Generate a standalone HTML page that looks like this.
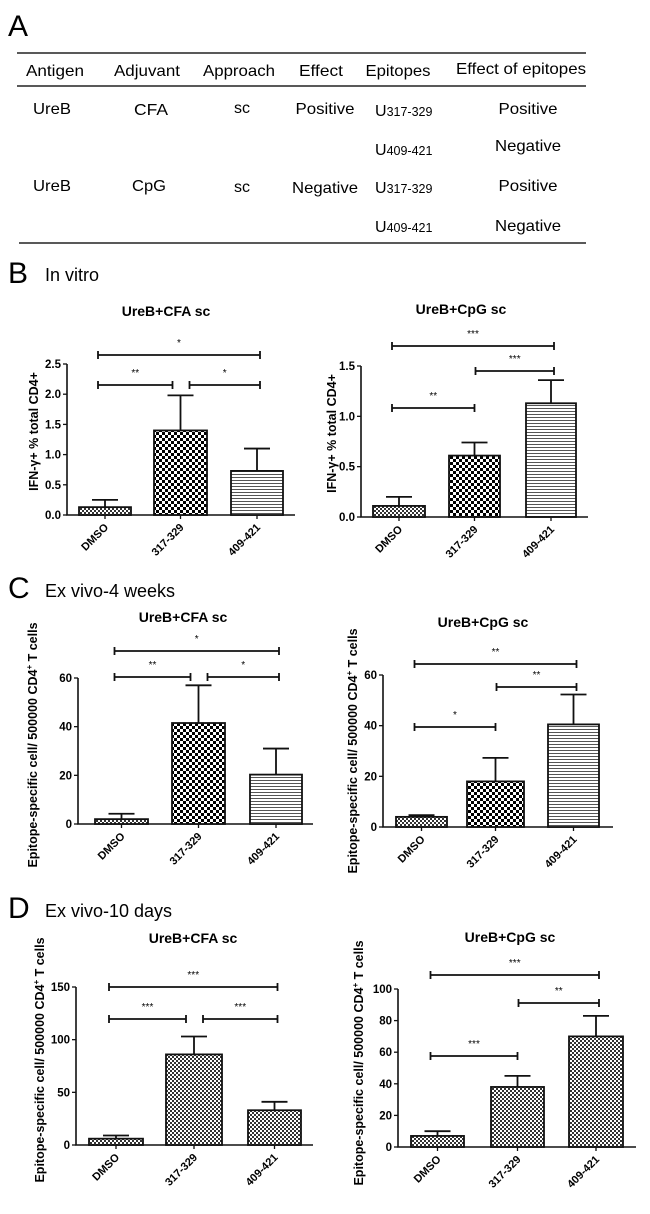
<!DOCTYPE html>
<html><head><meta charset="utf-8"><style>
body{margin:0;background:#fff;}
svg{display:block;font-family:"Liberation Sans",Arial,sans-serif;}
.t{font-size:16px;fill:#000;font-family:"Liberation Sans",sans-serif;}
.big{font-size:30px;}
.sec{font-size:18px;}
.ttl{font-size:14px;font-weight:bold;}
.tk{font-size:11.5px;font-weight:bold;}
.cl{font-size:11px;font-weight:bold;}
.yl{font-size:12.5px;font-weight:bold;}
.st{font-size:10px;}
</style></head><body>
<svg id="fig" width="650" height="1214" viewBox="0 0 650 1214" xmlns="http://www.w3.org/2000/svg">
<defs>
<pattern id="fine" width="4" height="4" patternUnits="userSpaceOnUse"><rect width="4" height="4" fill="#fff"/><rect width="2" height="2" fill="#333"/><rect x="2" y="2" width="2" height="2" fill="#333"/></pattern>
<pattern id="coarse" width="6" height="6" patternUnits="userSpaceOnUse"><rect width="6" height="6" fill="#fff"/><rect width="3" height="3" fill="#000"/><rect x="3" y="3" width="3" height="3" fill="#000"/></pattern>
<pattern id="hl" width="4" height="3" patternUnits="userSpaceOnUse"><rect width="4" height="3" fill="#fff"/><rect width="4" height="1" fill="#555"/></pattern>
</defs>
<g>
<text class="t big" x="8" y="36">A</text>
<line x1="17" y1="53" x2="586" y2="53" stroke="#222" stroke-width="1.5"/>
<line x1="17" y1="86" x2="586" y2="86" stroke="#222" stroke-width="1.5"/>
<line x1="19" y1="243" x2="586" y2="243" stroke="#222" stroke-width="1.5"/>
<g text-anchor="middle">
<text class="t" x="55" y="76" textLength="58" lengthAdjust="spacingAndGlyphs">Antigen</text><text class="t" x="147" y="76" textLength="66" lengthAdjust="spacingAndGlyphs">Adjuvant</text><text class="t" x="239" y="76" textLength="72" lengthAdjust="spacingAndGlyphs">Approach</text><text class="t" x="321" y="76" textLength="44" lengthAdjust="spacingAndGlyphs">Effect</text><text class="t" x="398" y="76" textLength="65" lengthAdjust="spacingAndGlyphs">Epitopes</text><text class="t" x="521" y="74" textLength="130" lengthAdjust="spacingAndGlyphs">Effect of epitopes</text>
</g>
<g text-anchor="middle">
<text class="t" x="52" y="114" textLength="38" lengthAdjust="spacingAndGlyphs">UreB</text><text class="t" x="151" y="115" textLength="34" lengthAdjust="spacingAndGlyphs">CFA</text><text class="t" x="242" y="113">sc</text><text class="t" x="325" y="114" textLength="59" lengthAdjust="spacingAndGlyphs">Positive</text><text class="t" x="528" y="114" textLength="59" lengthAdjust="spacingAndGlyphs">Positive</text>
<text class="t" x="528" y="151" textLength="66" lengthAdjust="spacingAndGlyphs">Negative</text>
<text class="t" x="52" y="191" textLength="38" lengthAdjust="spacingAndGlyphs">UreB</text><text class="t" x="149" y="191" textLength="34" lengthAdjust="spacingAndGlyphs">CpG</text><text class="t" x="242" y="192">sc</text><text class="t" x="325" y="193" textLength="66" lengthAdjust="spacingAndGlyphs">Negative</text><text class="t" x="528" y="191" textLength="59" lengthAdjust="spacingAndGlyphs">Positive</text>
<text class="t" x="528" y="231" textLength="66" lengthAdjust="spacingAndGlyphs">Negative</text>
</g>
<g>
<text class="t" x="375" y="116">U<tspan font-size="12.5">317-329</tspan></text>
<text class="t" x="375" y="155">U<tspan font-size="12.5">409-421</tspan></text>
<text class="t" x="375" y="193">U<tspan font-size="12.5">317-329</tspan></text>
<text class="t" x="375" y="232">U<tspan font-size="12.5">409-421</tspan></text>
</g>
</g>
<text class="t big" x="8" y="283">B</text>
<text class="t sec" x="45" y="281">In vitro</text>
<text class="t big" x="8" y="598">C</text>
<text class="t sec" x="45" y="597">Ex vivo-4 weeks</text>
<text class="t big" x="8" y="918">D</text>
<text class="t sec" x="45" y="917">Ex vivo-10 days</text>
<g id="charts"></g>
</svg>
<script>
const categories = ["DMSO", "317-329", "409-421"];
const bLeftValues = [0.13, 1.40, 0.73];
const bLeftErrors = [0.25, 1.98, 1.10];
const bLeftTicks = [0, 0.5, 1.0, 1.5, 2.0, 2.5];
const bRightValues = [0.11, 0.61, 1.13];
const bRightErrors = [0.20, 0.74, 1.36];
const bRightTicks = [0, 0.5, 1.0, 1.5];
const cLeftValues = [2, 41.5, 20.3];
const cLeftErrors = [4.2, 57, 31];
const cLeftTicks = [0, 20, 40, 60];
const cRightValues = [4, 18, 40.5];
const cRightErrors = [4.7, 27.3, 52.3];
const cRightTicks = [0, 20, 40, 60];
const dLeftValues = [6, 86, 33];
const dLeftErrors = [9, 103, 41];
const dLeftTicks = [0, 50, 100, 150];
const dRightValues = [7, 38, 70];
const dRightErrors = [10, 45, 83];
const dRightTicks = [0, 20, 40, 60, 80, 100];
const bLeftSig = [["*",0,2],["**",0,1],["*",1,2]];
const bRightSig = [["***",0,2],["***",1,2],["**",0,1]];
const cLeftSig = [["*",0,2],["**",0,1],["*",1,2]];
const cRightSig = [["**",0,2],["**",1,2],["*",0,1]];
const dLeftSig = [["***",0,2],["***",0,1],["***",1,2]];
const dRightSig = [["***",0,2],["**",1,2],["***",0,1]];

const NS = "http://www.w3.org/2000/svg";
const root = document.getElementById("charts");
function mk(tag, attrs, parent){const e=document.createElementNS(NS,tag);for(const k in attrs)e.setAttribute(k,attrs[k]);parent.appendChild(e);return e;}

function chart(cfg){
  const g = mk("g",{},root);
  
  
  const max = cfg.ticks[cfg.ticks.length-1];
  const y = v => cfg.y0 - (v/max)*(cfg.y0-cfg.yTop);
  const t = mk("text",{x:cfg.titleX,y:cfg.titleY,"text-anchor":"middle",class:"ttl"},g);
  t.textContent = cfg.title;
  
  
  const yl = mk("text",{transform:`translate(${cfg.ylX},${(cfg.y0+cfg.yTop)/2+cfg.ylShift}) rotate(-90)`,"text-anchor":"middle",class:"yl"},g);
  yl.innerHTML = cfg.ylabel;
  
  
  const ax = mk("path",{d:`M${cfg.ax} ${y(max)}V${cfg.y0}H${cfg.axEnd}`,stroke:"#111","stroke-width":"1.6",fill:"none"},g);
  
  
  cfg.ticks.forEach(v=>{
    mk("line",{x1:cfg.ax-4,x2:cfg.ax,y1:y(v),y2:y(v),stroke:"#111","stroke-width":"1.3"},g);
    const tl = mk("text",{x:cfg.ax-6,y:y(v)+4,"text-anchor":"end",class:"tk"},g);
    tl.textContent = v.toFixed(cfg.dec);
    
    
  });
  const centers=[];
  categories.forEach((c,i)=>{
    const x0 = cfg.bars[i][0], x1 = cfg.bars[i][1], cx=(x0+x1)/2; centers.push(cx);
    const ey = y(cfg.err[i]);
    const el = mk("path",{d:`M${cx} ${y(cfg.values[i])}V${ey}M${cx-13} ${ey}H${cx+13}`,stroke:"#111","stroke-width":"1.8",fill:"none"},g);
    
    
    const r = mk("rect",{x:x0,y:y(cfg.values[i]),width:x1-x0,height:cfg.y0-y(cfg.values[i]),fill:`url(#${cfg.pat[i]})`,stroke:"#111","stroke-width":"1.8"},g);
    
    
    mk("line",{x1:cx,x2:cx,y1:cfg.y0,y2:cfg.y0+4,stroke:"#111","stroke-width":"1.3"},g);
    const lb = mk("text",{transform:`translate(${cx+4},${cfg.y0+13}) rotate(-45)`,"text-anchor":"end",class:"cl"},g);
    lb.textContent = c;
    
    
  });
  cfg.sig.forEach((s,k)=>{
    const by = cfg.sigY[k];
    let xa = s[1]===0 ? centers[0]-7 : centers[1]+(cfg.split?9:1);
    let xb = s[2]===2 ? centers[2]+3 : centers[1]-(cfg.split?8:0);
    const br = mk("path",{d:`M${xa} ${by-4}V${by+4}M${xa} ${by}H${xb}M${xb} ${by-4}V${by+4}`,stroke:"#111","stroke-width":"1.8",fill:"none"},g);
    
    
    const st = mk("text",{x:(xa+xb)/2,y:by-9,"text-anchor":"middle",class:"st"},g);
    st.textContent = s[0];
    
    
  });
}
const yIFN = "IFN-γ+ % total CD4+";
const yEpi = 'Epitope-specific cell/ 500000 CD4<tspan dy="-5" font-size="8">+</tspan><tspan dy="5"> T cells</tspan>';
chart({name:"chart-b-cfa",title:"UreB+CFA sc",titleX:166,titleY:316,ylabel:yIFN,ylX:38,ylShift:-8,ax:67,axEnd:295,y0:515,yTop:364,ticks:bLeftTicks,dec:1,values:bLeftValues,err:bLeftErrors,bars:[[79,131],[154,207],[231,283]],pat:["fine","coarse","hl"],sig:bLeftSig,sigY:[355,385,385],split:true});
chart({name:"chart-b-cpg",title:"UreB+CpG sc",titleX:461,titleY:314,ylabel:yIFN,ylX:336,ylShift:-8,ax:361,axEnd:588,y0:517,yTop:366,ticks:bRightTicks,dec:1,values:bRightValues,err:bRightErrors,bars:[[373,425],[449,500],[526,576]],pat:["fine","coarse","hl"],sig:bRightSig,sigY:[346,371,408],split:false});
chart({name:"chart-c-cfa",title:"UreB+CFA sc",titleX:183,titleY:622,ylabel:yEpi,ylX:37,ylShift:-6,ax:78,axEnd:313,y0:824,yTop:678,ticks:cLeftTicks,dec:0,values:cLeftValues,err:cLeftErrors,bars:[[95,148],[172,225],[250,302]],pat:["fine","coarse","hl"],sig:cLeftSig,sigY:[651,677,677],split:true});
chart({name:"chart-c-cpg",title:"UreB+CpG sc",titleX:483,titleY:627,ylabel:yEpi,ylX:357,ylShift:0,ax:383,axEnd:613,y0:827,yTop:675,ticks:cRightTicks,dec:0,values:cRightValues,err:cRightErrors,bars:[[396,447],[467,524],[548,599]],pat:["fine","coarse","hl"],sig:cRightSig,sigY:[664,687,727],split:false});
chart({name:"chart-d-cfa",title:"UreB+CFA sc",titleX:193,titleY:943,ylabel:yEpi,ylX:44,ylShift:-6,ax:76,axEnd:313,y0:1145,yTop:987,ticks:dLeftTicks,dec:0,values:dLeftValues,err:dLeftErrors,bars:[[89,143],[166,222],[248,301]],pat:["fine","fine","fine"],sig:dLeftSig,sigY:[987,1019,1019],split:true});
chart({name:"chart-d-cpg",title:"UreB+CpG sc",titleX:510,titleY:942,ylabel:yEpi,ylX:363,ylShift:-5,ax:398,axEnd:636,y0:1147,yTop:989,ticks:dRightTicks,dec:0,values:dRightValues,err:dRightErrors,bars:[[411,464],[491,544],[569,623]],pat:["fine","fine","fine"],sig:dRightSig,sigY:[975,1003,1056],split:false});
</script>
</body></html>
